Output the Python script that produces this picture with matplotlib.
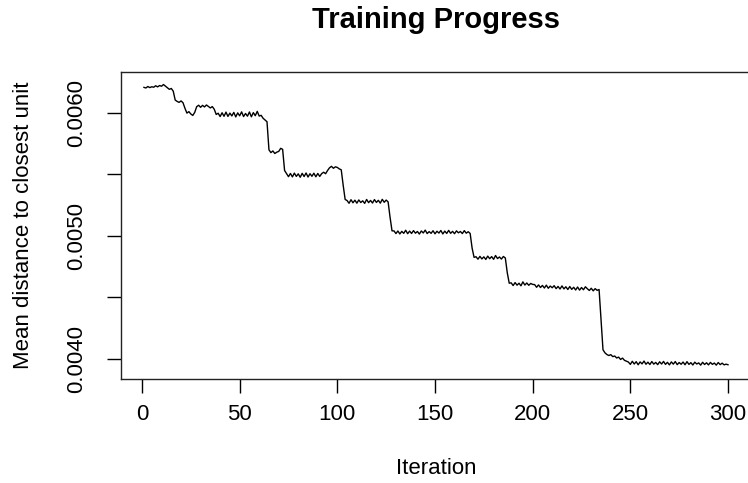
import numpy as np
import matplotlib
matplotlib.use("Agg")
import matplotlib.pyplot as plt

plt.rcParams['font.family'] = ['Liberation Sans', 'DejaVu Sans']

# mean distance to closest unit (units of 1e-5)
dist_e5 = [
    620.5, 620.0, 621.2, 620.3, 621.0, 620.6, 621.8, 620.9, 622.0, 621.4,
    622.8, 621.5, 620.2, 618.9, 619.6, 617.4, 610.2, 609.1, 608.3, 609.5,
    608.0, 603.5, 599.6, 600.8, 598.9, 597.7, 600.2, 604.8, 606.0, 604.3,
    605.9, 604.6, 606.2, 605.0, 603.8, 604.9, 602.7, 598.5, 599.5, 596.8,
    599.9, 597.0, 600.4, 596.9, 599.6, 597.3, 600.2, 596.5, 599.8, 597.4,
    600.6, 596.8, 599.3, 597.1, 600.5, 596.6, 600.0, 597.5, 601.0, 597.2,
    597.8, 595.4, 594.0, 592.6,
    569.8, 567.5, 568.9, 566.8, 567.9, 568.5,
    571.0, 570.2,
    553.0,
    550.5, 548.0, 550.6, 547.8, 550.9, 548.2, 550.3, 547.5, 550.7, 548.1,
    551.0, 547.7, 550.4, 548.3, 550.8, 547.9, 550.6, 548.2, 550.5, 551.6,
    550.4, 553.0,
    555.2, 556.4, 554.8, 556.0, 555.5, 554.3, 553.6,
    541.0, 529.5,
    528.6, 526.4, 529.3, 526.8, 528.9, 526.5, 529.1, 527.0, 528.4, 526.3,
    529.5, 526.9, 528.7, 526.6, 529.4, 527.1, 528.8, 526.5, 529.6, 527.2,
    529.0, 527.5,
    515.0, 504.0,
    504.0, 501.8, 503.9, 501.5, 503.6, 502.0, 504.5, 501.7, 503.8, 501.9,
    504.2, 502.1, 503.5, 501.4, 503.9, 502.3, 504.6, 501.8, 503.4, 502.0,
    504.1, 501.6, 503.7, 502.2, 504.3, 501.5, 503.8, 501.9, 504.4, 502.0,
    503.6, 501.7, 504.0, 502.4, 503.5, 501.8, 504.2, 502.1, 503.3, 501.9,
    490.0, 482.5,
    483.0, 481.0, 483.3, 481.2, 482.9, 480.8, 483.5, 481.4, 483.1, 480.9,
    484.0, 481.5, 482.8, 481.1, 483.2, 482.0,
    470.0, 461.5,
    461.8, 459.6, 462.0, 459.9, 461.5, 459.4, 462.6, 460.0, 461.7, 459.8,
    461.3, 460.5,
    460.4, 458.2, 460.1, 458.0, 459.7, 457.6, 459.9, 457.4, 459.2, 457.8,
    459.5, 457.1, 458.9, 456.8, 459.3, 456.9, 458.6, 456.4, 458.8, 456.5,
    458.2, 456.0, 458.4, 455.9, 458.0, 456.2, 458.6, 457.0, 455.6, 457.4,
    455.3, 457.1, 455.7, 456.4,
    432.0, 407.5,
    405.0, 403.6, 402.8, 403.5, 401.9, 402.4, 400.8, 401.5, 399.6, 400.7,
    398.9, 398.2,
    397.5, 395.6, 398.1, 395.9, 397.8, 395.3, 397.6, 396.0, 398.3, 395.7,
    397.4, 395.5, 397.9, 395.8, 397.2, 395.4, 397.7, 395.9, 398.0, 395.6,
    397.3, 395.2, 397.6, 395.8, 397.9, 395.4, 397.1, 395.7, 397.5, 395.3,
    397.8, 395.6, 397.0, 395.1, 397.4, 395.9, 396.8, 395.0, 397.3, 395.5,
    396.9, 395.2, 397.2, 395.6, 396.7, 395.0, 397.1, 395.4, 396.6, 395.2,
    395.8, 395.3,
]
dist = np.array(dist_e5) * 1e-5
iterations = np.arange(1, len(dist) + 1)

x_ticks = [0, 50, 100, 150, 200, 250, 300]
y_ticks = [0.0040, 0.0045, 0.0050, 0.0055, 0.0060]
y_tick_labels = ["0.0040", "", "0.0050", "", "0.0060"]

fig = plt.figure(figsize=(7.48, 4.83), dpi=100)
# the R plot region runs past the right edge of the saved picture
ax = fig.add_axes([0.1612, 0.216, 0.8433, 0.635])

ax.plot(iterations, dist, color="black", linewidth=1.0)

ax.set_xlim(-10.96, 311.96)
ax.set_ylim(0.00384, 0.00633)
ax.set_xticks(x_ticks)
ax.set_yticks(y_ticks)
ax.set_yticklabels(y_tick_labels, rotation=90, va="center")

ax.tick_params(axis="both", direction="out", length=10, width=1,
               labelsize=16, colors="black")
ax.tick_params(axis="x", pad=8)
ax.tick_params(axis="y", pad=14)
for s in ax.spines.values():
    s.set_linewidth(1)
    s.set_color("#222222")

ax.set_xlabel("Iteration", fontsize=16)
ax.xaxis.set_label_coords(0.5, -0.259)
ax.set_ylabel("Mean distance to closest unit", fontsize=16)
ax.yaxis.set_label_coords(-0.138, 0.5)

fig.text(0.5829, 0.9586, "Training Progress", fontsize=21, fontweight="bold",
         ha="center", va="center")

fig.savefig("out.png", dpi=100)
